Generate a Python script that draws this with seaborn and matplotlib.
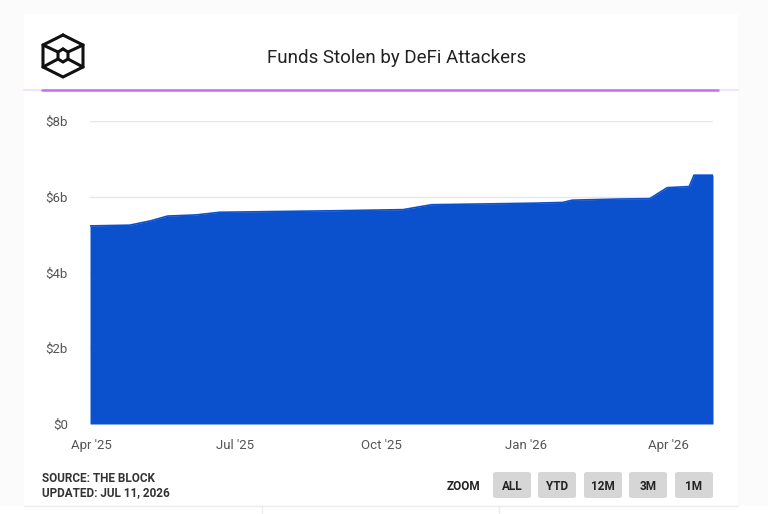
import matplotlib
matplotlib.use("Agg")
import matplotlib.pyplot as plt
from matplotlib.patches import FancyBboxPatch, Rectangle
from matplotlib.lines import Line2D
import seaborn as sns
import pandas as pd

# data (cumulative funds stolen, $ billions)
dates = ["2025-03-31", "2025-04-25", "2025-05-08", "2025-05-19", "2025-06-06",
         "2025-06-21", "2025-09-01", "2025-10-15", "2025-11-02", "2026-01-05",
         "2026-01-24", "2026-01-30", "2026-03-01", "2026-03-20", "2026-03-31",
         "2026-04-14", "2026-04-17", "2026-04-29"]
stolen_b = [5.23, 5.25, 5.36, 5.49, 5.52, 5.59, 5.63, 5.66, 5.79, 5.83,
            5.85, 5.91, 5.94, 5.95, 6.24, 6.27, 6.57, 6.57]
y_ticks = [0, 2, 4, 6, 8]
x_ticks = ["2025-04-01", "2025-07-01", "2025-10-01", "2026-01-01", "2026-04-01"]
x_tick_labels = ["Apr '25", "Jul '25", "Oct '25", "Jan '26", "Apr '26"]
zoom_buttons = ["ALL", "YTD", "12M", "3M", "1M"]

df = pd.DataFrame({"date": pd.to_datetime(dates), "value": stolen_b})

sns.set_style("white")
plt.rcParams['font.family'] = ['Roboto', 'DejaVu Sans']

W, H = 768, 514
fig = plt.figure(figsize=(W / 100, H / 100), dpi=100, facecolor="#fbfbfb")

def px(x, y):
    # pixel coords (top-left origin) -> figure fraction
    return x / W, 1 - y / H

# white card (kept behind everything)
fig.patches.append(Rectangle(px(24, 505), (738 - 24) / W, (505 - 14) / H,
                             transform=fig.transFigure, facecolor="white",
                             edgecolor="none", zorder=-10))
fig.patches.append(Rectangle(px(0, 514), 1, 8 / H, transform=fig.transFigure,
                             facecolor="white", edgecolor="none", zorder=-10))
fig.lines.append(Line2D([24 / W, 738 / W], [1 - 506 / H] * 2, transform=fig.transFigure,
                        color="#ededed", lw=1))
for xv in (262, 499):
    fig.lines.append(Line2D([xv / W] * 2, [0, 1 - 507 / H], transform=fig.transFigure,
                            color="#ededed", lw=1))

# purple rule under the header
fig.lines.append(Line2D([24 / W, 738 / W], [1 - 90 / H] * 2, transform=fig.transFigure,
                        color="#f3e2fc", lw=1.5))
fig.lines.append(Line2D([42 / W, 718 / W], [1 - 90 / H] * 2, transform=fig.transFigure,
                        color="#c76ef3", lw=1.8))

# logo (hexagonal cube outline)
outer = [(63, 35), (83, 45), (83, 67), (63, 77), (43, 67), (43, 45), (63, 35)]
inner = [(63, 49), (68, 52), (68, 59), (63, 62), (58, 59), (58, 52), (63, 49)]
for poly in (outer, inner):
    xs, ys = zip(*[px(a, b) for a, b in poly])
    fig.lines.append(Line2D(xs, ys, transform=fig.transFigure, color="#111111", lw=2.2,
                            solid_joinstyle="miter"))
for (a, b), (c, d) in [((43, 45), (58, 52)), ((83, 45), (68, 52)),
                       ((43, 67), (58, 59)), ((83, 67), (68, 59))]:
    p1, p2 = px(a, b), px(c, d)
    fig.lines.append(Line2D([p1[0], p2[0]], [p1[1], p2[1]], transform=fig.transFigure,
                            color="#111111", lw=2.2))

fig.text(*px(397, 58), "Funds Stolen by DeFi Attackers", ha="center", va="center",
         fontsize=13.5, color="#222222")

# main area chart
ax = fig.add_axes([90 / W, 1 - 424 / H, (713 - 90) / W, (424 - 121) / H], zorder=1)
ax.set_facecolor("white")
ax.fill_between(df["date"], df["value"], 0, color="#0b50cd", lw=0, zorder=2)
sns.lineplot(data=df, x="date", y="value", ax=ax, color="#0b50cd", lw=1.2, zorder=3)
ax.set_xlim(df["date"].iloc[0], df["date"].iloc[-1])
ax.set_ylim(0, 8)
ax.set_yticks(y_ticks)
ax.set_yticklabels([f"${v}b" if v else "$0" for v in y_ticks])
ax.set_xticks(pd.to_datetime(x_ticks))
ax.set_xticklabels(x_tick_labels)
ax.grid(axis="y", color="#e6e6e6", lw=1, zorder=0)
ax.grid(axis="x", visible=False)
for s in ax.spines.values():
    s.set_visible(False)
ax.tick_params(axis="both", length=0, labelsize=9.5, labelcolor="#555555")
ax.tick_params(axis="y", pad=16)
ax.tick_params(axis="x", pad=11)
ax.set_xlabel("")
ax.set_ylabel("")
ax.set_axisbelow(True)

# footer
fig.text(*px(42, 478), "SOURCE: THE BLOCK", ha="left", va="center", fontsize=8.5,
         fontweight="bold", color="#333333")
fig.text(*px(42, 493), "UPDATED: JUL 11, 2026", ha="left", va="center", fontsize=8.5,
         fontweight="bold", color="#333333")
fig.text(*px(463, 486), "ZOOM", ha="center", va="center", fontsize=8.5,
         fontweight="bold", color="#222222")
btn_left = [493, 538, 584, 629, 675]
for lbl, bx in zip(zoom_buttons, btn_left):
    x0, y0 = px(bx, 498)
    fig.patches.append(FancyBboxPatch((x0, y0), 38 / W, 26 / H,
                                      boxstyle="round,pad=0,rounding_size=0.004",
                                      transform=fig.transFigure, facecolor="#d6d6d6",
                                      edgecolor="none", zorder=1))
    fig.text(*px(bx + 19, 486), lbl, ha="center", va="center", fontsize=8.5,
             fontweight="bold", color="#222222")

fig.savefig("out.png", dpi=100, facecolor=fig.get_facecolor())
